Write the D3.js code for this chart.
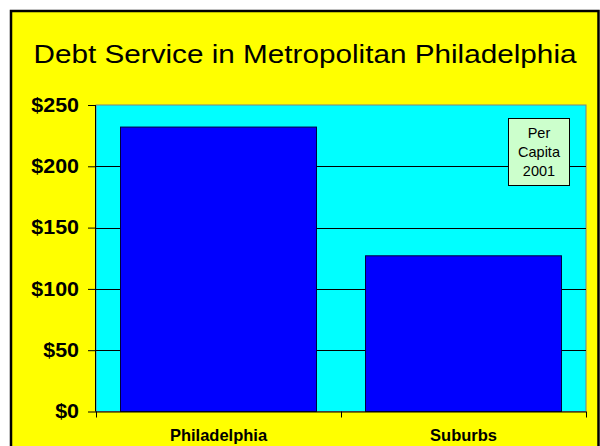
<!DOCTYPE html>
<html>
<head>
<meta charset="utf-8">
<script src="https://cdn.jsdelivr.net/npm/d3@7"></script>
<style>
  html, body { margin: 0; padding: 0; background: #ffffff; }
  svg { display: block; }
</style>
</head>
<body>
<svg id="chart" width="600" height="446"></svg>
<script>
const title = "Debt Service in Metropolitan Philadelphia";
const categories = ["Philadelphia", "Suburbs"];
const values = [232, 127];
const yTicks = [0, 50, 100, 150, 200, 250];
const noteLines = ["Per", "Capita", "2001"];

const svg = d3.select("#chart");
const plot = { left: 96, right: 586, top: 105, bottom: 411.5 };

// outer yellow panel with black border
svg.append("rect").attr("x", 11).attr("y", 11).attr("width", 587.5).attr("height", 445)
  .attr("fill", "#FFFF00").attr("stroke", "#000").attr("stroke-width", 2.5);

// title
svg.append("text").attr("x", 305).attr("y", 62.5)
  .attr("text-anchor", "middle")
  .attr("font-family", "Liberation Sans, Arial, sans-serif")
  .attr("font-size", 25.5)
  .attr("textLength", 543)
  .attr("lengthAdjust", "spacingAndGlyphs")
  .attr("fill", "#000")
  .text(title);

const x = d3.scaleBand().domain(categories).range([plot.left, plot.right]).paddingInner(0.2).paddingOuter(0.1);
const y = d3.scaleLinear().domain([0, 250]).range([plot.bottom, plot.top]);

// plot area
svg.append("rect").attr("x", plot.left).attr("y", plot.top)
  .attr("width", plot.right - plot.left).attr("height", plot.bottom - plot.top)
  .attr("fill", "#00FFFF").attr("stroke", "#808080").attr("stroke-width", 1);

// gridlines
svg.append("g").selectAll("line").data(yTicks.filter(d => d > 0 && d < 250)).join("line")
  .attr("x1", plot.left).attr("x2", plot.right)
  .attr("y1", d => Math.round(y(d)) + 0.5).attr("y2", d => Math.round(y(d)) + 0.5)
  .attr("stroke", "#000").attr("stroke-width", 1);

// bars
svg.append("g").selectAll("rect").data(categories).join("rect")
  .attr("x", d => x(d))
  .attr("y", (d, i) => y(values[i]))
  .attr("width", x.bandwidth())
  .attr("height", (d, i) => y(0) - y(values[i]))
  .attr("fill", "#0000FF").attr("stroke", "#000040").attr("stroke-width", 1);

// y axis
const yAxis = d3.axisLeft(y).tickValues(yTicks).tickSize(8).tickPadding(9)
  .tickFormat(d => "$" + d);
const gy = svg.append("g").attr("transform", `translate(${plot.left},0)`).call(yAxis);
gy.select(".domain").attr("stroke", "#000").attr("d", `M-0.5,${plot.top}V${plot.bottom}`);
gy.selectAll(".tick line").attr("stroke", "#000");
gy.selectAll(".tick text")
  .attr("font-family", "Liberation Sans, Arial, sans-serif")
  .attr("font-size", 19.5).attr("font-weight", "bold").attr("fill", "#000")
  .each(function () {
    const w = this.getComputedTextLength();
    d3.select(this).attr("textLength", w * 1.1).attr("lengthAdjust", "spacingAndGlyphs");
  });

// x axis
const xAxis = d3.axisBottom(x).tickSize(0).tickPadding(18);
const gx = svg.append("g").attr("transform", `translate(0,${plot.bottom})`).call(xAxis);
gx.select(".domain").attr("stroke", "#000").attr("d", `M${plot.left},0.5H${plot.right}`);
gx.selectAll(".tick text")
  .attr("font-family", "Liberation Sans, Arial, sans-serif")
  .attr("font-size", 16.5).attr("font-weight", "bold").attr("fill", "#000");
// category separators (tick marks between categories)
const sep = [plot.left, (plot.left + plot.right) / 2, plot.right];
gx.append("g").selectAll("line").data(sep).join("line")
  .attr("x1", d => Math.round(d) + 0.5).attr("x2", d => Math.round(d) + 0.5)
  .attr("y1", 0).attr("y2", 6).attr("stroke", "#000");

// note box
const note = svg.append("g");
note.append("rect").attr("x", 508.5).attr("y", 118.5).attr("width", 61).attr("height", 67)
  .attr("fill", "#CCFFCC").attr("stroke", "#000").attr("stroke-width", 1);
note.selectAll("text").data(noteLines).join("text")
  .attr("x", 539).attr("y", (d, i) => 138 + i * 19)
  .attr("text-anchor", "middle")
  .attr("font-family", "Liberation Sans, Arial, sans-serif")
  .attr("font-size", 14.5).attr("fill", "#000")
  .text(d => d);
</script>
</body>
</html>
